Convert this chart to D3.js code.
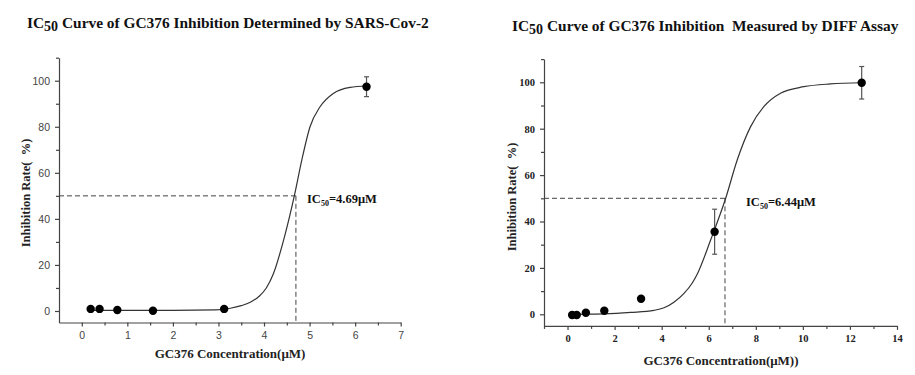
<!DOCTYPE html>
<html>
<head>
<meta charset="utf-8">
<script src="https://cdn.jsdelivr.net/npm/d3@7/dist/d3.min.js"></script>
<style>
  html, body { margin: 0; padding: 0; background: #fff; }
  svg { display: block; }
  text { white-space: pre; }
</style>
</head>
<body>
<svg id="chart" width="915" height="375"></svg>
<script>
// ---------- DATA ----------
// Panel A: SARS-Cov-2
const concA = [0.195, 0.39, 0.78, 1.5625, 3.125, 6.25];
const rateA = [0.9, 0.9, 0.4, 0.1, 0.9, 97.4];
const errA  = [0, 0, 0, 0, 0, 4.3];
const curveAx = [0.195, 1.0, 2.0, 2.93, 3.26, 3.5, 3.7, 3.9, 4.05, 4.21, 4.43, 4.67, 4.83, 5.01, 5.23, 5.52, 5.89, 6.25];
const curveAy = [0.3, 0.3, 0.3, 0.5, 1.2, 2.3, 3.8, 6.5, 10.0, 16.4, 30.8, 50.4, 65.6, 80.0, 88.7, 94.5, 97.1, 97.7];
const ic50LineA = 4.70;
const ic50LabelA = "4.69";
const xTicksA = [0, 1, 2, 3, 4, 5, 6, 7];

// Panel B: DIFF assay
const concB = [0.195, 0.39, 0.78, 1.5625, 3.125, 6.25, 12.5];
const rateB = [-0.3, -0.3, 0.7, 1.5, 6.7, 35.6, 99.8];
const errB  = [0, 0, 0, 0, 0, 9.7, 7.0];
const curveBx = [0.195, 1.0, 1.55, 2.69, 3.67, 4.1, 4.52, 4.95, 5.3, 5.52, 6.08, 6.72, 7.21, 7.78, 8.34, 9.05, 10.04, 11.17, 12.5];
const curveBy = [0.0, 0.05, 0.15, 0.8, 1.7, 2.8, 5.2, 9.0, 13.5, 17.5, 32.0, 50.0, 66.5, 80.9, 89.5, 95.3, 98.1, 99.3, 99.8];
const ic50LineB = 6.69;
const ic50LabelB = "6.44";
const xTicksB = [0, 2, 4, 6, 8, 10, 12, 14];

const yTicks = [0, 20, 40, 60, 80, 100];

// ---------- DRAW ----------
const svg = d3.select("#chart");
const serif = "'Liberation Serif', 'Times New Roman', serif";
const sans = "'Liberation Sans', Arial, sans-serif";

function panel(cfg) {
  const g = svg.append("g");
  const x = d3.scaleLinear().domain(cfg.xDomain).range(cfg.xRange);
  const y = d3.scaleLinear().domain([-5, 110]).range(cfg.yRange);

  // title
  const t = g.append("text")
    .attr("x", cfg.titleX).attr("y", cfg.titleY)
    .attr("font-family", serif).attr("font-weight", "bold")
    .attr("font-size", 15.4).attr("fill", "#111");
  t.append("tspan").text("IC");
  t.append("tspan").attr("font-size", 14).attr("dy", 3).text("50");
  t.append("tspan").attr("dy", -3).text(cfg.title);

  // minor ticks
  const xAxisMinor = d3.axisBottom(x).tickValues(cfg.xMinor).tickSize(3).tickFormat("");
  const yAxisMinor = d3.axisLeft(y).tickValues(d3.range(0, 111, 10).filter(v => v % 20 !== 0)).tickSize(3).tickFormat("");

  const tickFont = cfg.sansTicks ? sans : serif;
  const tickWeight = cfg.sansTicks ? "normal" : "bold";
  const tickColor = cfg.sansTicks ? "#444" : "#222";

  const xAxis = d3.axisBottom(x).tickValues(cfg.xTicks).tickSize(4).tickPadding(5).tickSizeOuter(0);
  const yAxis = d3.axisLeft(y).tickValues(yTicks).tickSize(4).tickPadding(5).tickSizeOuter(0);

  const gx = g.append("g").attr("transform", `translate(0,${y(-5)})`).call(xAxis);
  g.append("g").attr("transform", `translate(0,${y(-5)})`).call(xAxisMinor).select(".domain").remove();
  const gy = g.append("g").attr("transform", `translate(${x(cfg.xDomain[0])},0)`).call(yAxis);
  g.append("g").attr("transform", `translate(${x(cfg.xDomain[0])},0)`).call(yAxisMinor).select(".domain").remove();

  g.selectAll(".domain, .tick line").attr("stroke", "#444").attr("stroke-width", 1.2);
  [gx, gy].forEach(a => a.selectAll("text")
    .attr("font-family", tickFont).attr("font-weight", tickWeight)
    .attr("font-size", 10.5).attr("fill", tickColor));

  // axis titles
  g.append("text")
    .attr("x", cfg.xTitleX).attr("y", cfg.xTitleY)
    .attr("text-anchor", "middle")
    .attr("font-family", serif).attr("font-weight", "bold").attr("font-size", 13).attr("fill", "#222")
    .text(cfg.xTitle);
  g.append("text")
    .attr("transform", `translate(${cfg.yTitleX},${cfg.yTitleY}) rotate(-90)`)
    .attr("text-anchor", "middle")
    .attr("font-family", serif).attr("font-weight", "bold").attr("font-size", 12.5).attr("fill", "#222")
    .text("Inhibition Rate(  %)");

  // dashed IC50 lines
  g.append("line")
    .attr("x1", x(cfg.xDomain[0])).attr("x2", x(cfg.ic50Line))
    .attr("y1", y(50)).attr("y2", y(50))
    .attr("stroke", "#444").attr("stroke-width", 1).attr("stroke-dasharray", "5,3");
  g.append("line")
    .attr("x1", x(cfg.ic50Line)).attr("x2", x(cfg.ic50Line))
    .attr("y1", y(50)).attr("y2", y(-5))
    .attr("stroke", "#444").attr("stroke-width", 1).attr("stroke-dasharray", "5,3");

  // fitted curve
  const pts = cfg.cx.map((v, i) => [v, cfg.cy[i]]);
  g.append("path")
    .datum(pts)
    .attr("fill", "none").attr("stroke", "#333").attr("stroke-width", 1.2)
    .attr("d", d3.line().x(d => x(d[0])).y(d => y(d[1])).curve(d3.curveMonotoneX));

  // error bars
  const data = cfg.conc.map((c, i) => ({c, r: cfg.rate[i], e: cfg.err[i]}));
  const eb = g.selectAll(".eb").data(data.filter(d => d.e > 0)).enter().append("g");
  eb.append("line")
    .attr("x1", d => x(d.c)).attr("x2", d => x(d.c))
    .attr("y1", d => y(d.r - d.e)).attr("y2", d => y(d.r + d.e))
    .attr("stroke", "#555").attr("stroke-width", 1.2);
  [-1, 1].forEach(s => eb.append("line")
    .attr("x1", d => x(d.c) - 2.5).attr("x2", d => x(d.c) + 2.5)
    .attr("y1", d => y(d.r + s * d.e)).attr("y2", d => y(d.r + s * d.e))
    .attr("stroke", "#555").attr("stroke-width", 1.2));

  // points
  g.selectAll(".pt").data(data).enter().append("circle")
    .attr("cx", d => x(d.c)).attr("cy", d => y(d.r)).attr("r", 4.2)
    .attr("fill", "#000");

  // IC50 label
  const lab = g.append("text")
    .attr("x", cfg.labX).attr("y", cfg.labY)
    .attr("font-family", serif).attr("font-weight", "bold").attr("font-size", 12.5).attr("fill", "#111");
  lab.append("tspan").text("IC");
  lab.append("tspan").attr("font-size", 8).attr("dy", 3).text("50");
  lab.append("tspan").attr("dy", -3).text("=" + cfg.ic50Label + "\u03bcM");
}

panel({
  xDomain: [-0.5, 7], xRange: [59, 400.7], yRange: [322.5, 57.7],
  xTicks: xTicksA, xMinor: d3.range(0.5, 7, 1),
  sansTicks: true,
  title: " Curve of GC376 Inhibition Determined by SARS-Cov-2",
  titleX: 27, titleY: 28,
  xTitle: "GC376 Concentration(\u03bcM)", xTitleX: 230, xTitleY: 358,
  yTitleX: 30, yTitleY: 193,
  ic50Line: ic50LineA, ic50Label: ic50LabelA,
  labX: 307, labY: 203,
  conc: concA, rate: rateA, err: errA, cx: curveAx, cy: curveAy
});

panel({
  xDomain: [-1, 14], xRange: [544, 897], yRange: [325.9, 59.1],
  xTicks: xTicksB, xMinor: d3.range(-1, 14, 2),
  sansTicks: false,
  title: " Curve of GC376 Inhibition  Measured by DIFF Assay",
  titleX: 512, titleY: 31,
  xTitle: "GC376 Concentration(\u03bcM))", xTitleX: 721, xTitleY: 365,
  yTitleX: 516, yTitleY: 197,
  ic50Line: ic50LineB, ic50Label: ic50LabelB,
  labX: 746, labY: 206,
  conc: concB, rate: rateB, err: errB, cx: curveBx, cy: curveBy
});
</script>
</body>
</html>
